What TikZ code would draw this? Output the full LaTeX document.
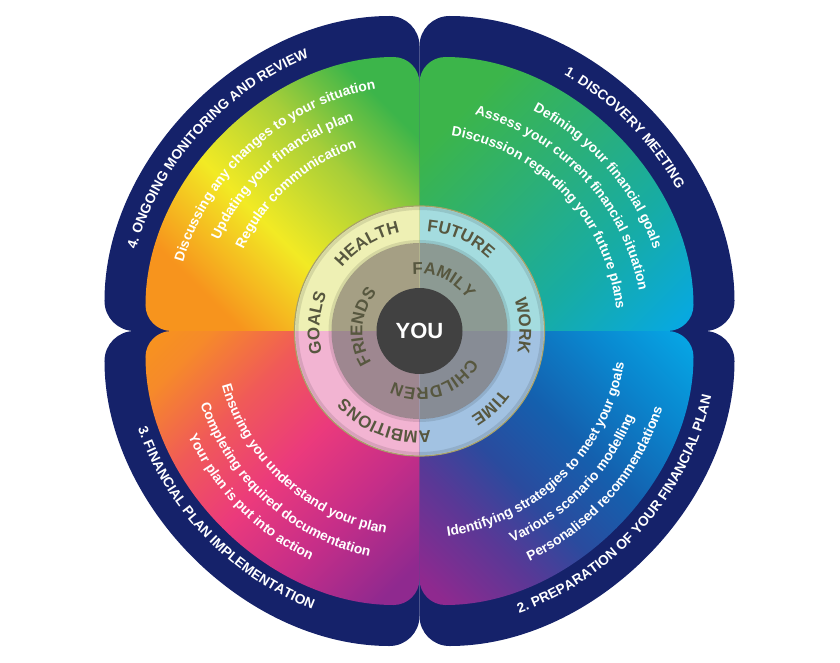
\documentclass[tikz,border=0pt]{standalone}
\usepackage{fontspec}
\setmainfont{Liberation Sans}
\usepackage{tikz}
\usetikzlibrary{decorations.text}

\definecolor{navy}{HTML}{15226A}
\definecolor{cOrange}{HTML}{F7941D}
\definecolor{cYellow}{HTML}{F2EA24}
\definecolor{cLime}{HTML}{A6CE39}
\definecolor{cGreen}{HTML}{3CB54A}
\definecolor{cSea}{HTML}{2AAF7A}
\definecolor{cTeal}{HTML}{17ACA4}
\definecolor{cCyan}{HTML}{06A8E6}
\definecolor{cSky}{HTML}{0A86CE}
\definecolor{cBlue}{HTML}{1460AE}
\definecolor{cDeep}{HTML}{2A4B9E}
\definecolor{cIndigo}{HTML}{5A3896}
\definecolor{cPurple}{HTML}{8F298F}
\definecolor{cAmber}{HTML}{F68A2A}
\definecolor{cCoral}{HTML}{F05A58}
\definecolor{cPink}{HTML}{EB3A7C}
\definecolor{cMagenta}{HTML}{C72E88}
\definecolor{ringtl}{HTML}{EEF0B4}
\definecolor{ringtr}{HTML}{A4DCDF}
\definecolor{ringbl}{HTML}{F2B4D2}
\definecolor{ringbr}{HTML}{A2C2E2}
\definecolor{midtl}{HTML}{A59F84}
\definecolor{midtr}{HTML}{8C9A93}
\definecolor{midbl}{HTML}{9E8790}
\definecolor{midbr}{HTML}{878C95}
\definecolor{youbg}{HTML}{414141}
\definecolor{ringtext}{HTML}{57573F}
\definecolor{ringline}{HTML}{A8A26A}

\pgfdeclarehorizontalshading{shadetl}{100bp}{color(0bp)=(cOrange); color(27bp)=(cOrange); color(44bp)=(cYellow); color(61bp)=(cLime); color(75bp)=(cGreen); color(100bp)=(cGreen)}
\pgfdeclarehorizontalshading{shadetr}{100bp}{color(0bp)=(cGreen); color(27bp)=(cGreen); color(47bp)=(cSea); color(64bp)=(cTeal); color(85bp)=(cCyan); color(100bp)=(cCyan)}
\pgfdeclarehorizontalshading{shadebr}{100bp}{color(0bp)=(cCyan); color(15bp)=(cCyan); color(29bp)=(cSky); color(44bp)=(cBlue); color(57bp)=(cDeep); color(68bp)=(cIndigo); color(82bp)=(cPurple); color(100bp)=(cPurple)}
\pgfdeclarehorizontalshading{shadebl}{100bp}{color(0bp)=(cOrange); color(15bp)=(cOrange); color(23bp)=(cAmber); color(36bp)=(cCoral); color(50bp)=(cPink); color(64bp)=(cMagenta); color(80bp)=(cPurple); color(100bp)=(cPurple)}

\newcommand{\ringfont}{\fontsize{17}{17}\selectfont\bfseries\color{ringtext}}
\newcommand{\itemfont}{\fontsize{13.8}{14}\selectfont\bfseries\color{white}}
\newcommand{\titlefont}{\fontsize{13.8}{14}\selectfont\bfseries\color{white}}
\newcommand{\cwtext}[4]{\path[decorate,decoration={text along path,text align=center,text={#4}}] ({#2+#3}:#1) arc[start angle={#2+#3},end angle={#2-#3},radius=#1];}
\newcommand{\ccwtext}[4]{\path[decorate,decoration={text along path,text align=center,text={#4}}] ({#2-#3}:#1) arc[start angle={#2-#3},end angle={#2+#3},radius=#1];}

\begin{document}
\begin{tikzpicture}[x=1pt,y=1pt,pet/.style={fill=navy,rounded corners=30},qd/.style={rounded corners=26},shd/.style={black,opacity=0.1,line width=3}]
 \useasboundingbox (-419.5,-331) rectangle (420.5,331);
 \foreach \a in {0,90,180,270}
  \path[pet] (0,0) -- (\a:315) arc[start angle=\a,delta angle=90,radius=315] -- cycle;
 \foreach \a/\s/\r in {0/shadetr/-45,90/shadetl/45,180/shadebl/-45,270/shadebr/225}
  \shade[qd,shading=\s,shading angle=\r] (0,0) -- (\a:274) arc[start angle=\a,delta angle=90,radius=274] -- cycle;
 \foreach \a/\c/\d in {0/ringtr/midtr,90/ringtl/midtl,180/ringbl/midbl,270/ringbr/midbr}{
  \fill[\c] (0,0) -- (\a:125) arc[start angle=\a,delta angle=90,radius=125] -- cycle;
  \fill[\d] (0,0) -- (\a:88) arc[start angle=\a,delta angle=90,radius=88] -- cycle;}
 \draw[shd] (0,0) circle[radius=122.5];
 \draw[shd] (0,0) circle[radius=89.5];
 \draw[ringline,line width=1.2] (0,0) circle[radius=125];
 \fill[youbg] (0,0) circle[radius=43];
 \node[font=\fontsize{22}{22}\selectfont\bfseries,text=white] (you) at (0,0) {YOU};
 \cwtext{100}{121}{60}{|\ringfont|HEALTH}
 \cwtext{100}{66}{60}{|\ringfont|FUTURE}
 \cwtext{100}{3}{60}{|\ringfont|WORK}
 \cwtext{100}{-47.5}{60}{|\ringfont|TIME}
 \cwtext{100}{-111}{60}{|\ringfont|AMBITIONS}
 \cwtext{100}{175.5}{60}{|\ringfont|GOALS}
 \cwtext{57}{65}{70}{|\ringfont|FAMILY}
 \cwtext{57}{175.5}{70}{|\ringfont|FRIENDS}
 \cwtext{57}{-73}{70}{|\ringfont|CHILDREN}
 \cwtext{295}{138}{45}{|\titlefont|4. ONGOING MONITORING AND REVIEW}
 \cwtext{294}{44.7}{45}{|\titlefont|1. DISCOVERY MEETING}
 \ccwtext{299}{-41.6}{45}{|\titlefont|2. PREPARATION OF YOUR FINANCIAL PLAN}
 \ccwtext{298}{224}{45}{|\titlefont|3. FINANCIAL PLAN IMPLEMENTATION}
 \cwtext{246}{132}{50}{|\itemfont|Discussing any changes to your situation}
 \cwtext{220}{131.5}{50}{|\itemfont|Updating your financial plan}
 \cwtext{194}{132}{50}{|\itemfont|Regular communication}
 \cwtext{248}{41}{50}{|\itemfont|Defining your financial goals}
 \cwtext{223}{43}{50}{|\itemfont|Assess your current financial situation}
 \cwtext{198}{43.5}{50}{|\itemfont|Discussion regarding your future plans}
 \ccwtext{207}{-45.5}{50}{|\itemfont|Identifying strategies to meet your goals}
 \ccwtext{231}{-44}{50}{|\itemfont|Various scenario modelling}
 \ccwtext{255}{-41}{50}{|\itemfont|Personalised recommendations}
 \ccwtext{205}{228}{50}{|\itemfont|Ensuring you understand your plan}
 \ccwtext{231}{228}{50}{|\itemfont|Completing required documentation}
 \ccwtext{254}{224.5}{50}{|\itemfont|Your plan is put into action}
\end{tikzpicture}
\end{document}
